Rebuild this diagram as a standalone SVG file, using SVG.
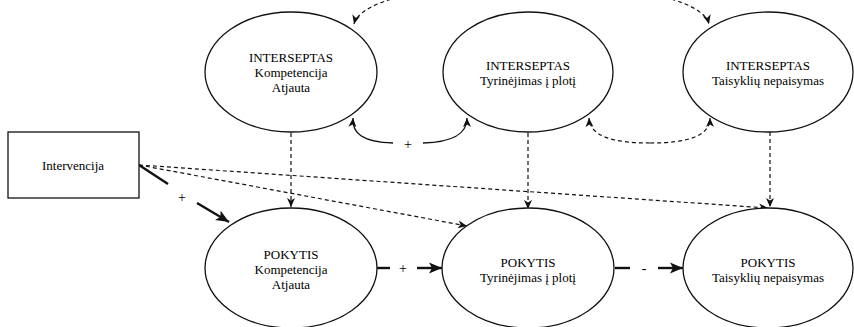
<svg xmlns="http://www.w3.org/2000/svg" width="854" height="327" viewBox="0 0 854 327">
  <style>
    .node { fill: #fff; stroke: #111; stroke-width: 1.3; }
    .lbl { font-family: "Liberation Serif", "Times New Roman", serif; font-size: 13px; fill: #000; text-anchor: middle; }
    .sign { font-family: "Liberation Serif", "Times New Roman", serif; font-size: 14px; fill: #000; text-anchor: middle; }
    .dash { fill: none; stroke: #111; stroke-width: 1.2; stroke-dasharray: 4 3; }
    .thin { fill: none; stroke: #111; stroke-width: 1.3; }
    .thick { fill: none; stroke: #111; stroke-width: 2.4; }
  </style>
  <defs>
    <marker id="small" markerUnits="userSpaceOnUse" markerWidth="10" markerHeight="10" viewBox="0 0 10 10" refX="9" refY="5" orient="auto-start-reverse">
      <path d="M0,1 L9,5 L0,9 L2.5,5 Z" fill="#111"/>
    </marker>
    <marker id="big" markerUnits="userSpaceOnUse" markerWidth="14" markerHeight="12" viewBox="0 0 14 12" refX="13" refY="6" orient="auto">
      <path d="M0,0.5 L13,6 L0,11.5 L3,6 Z" fill="#111"/>
    </marker>
  </defs>

  <rect width="854" height="327" fill="#fff"/>

  <g id="connectors">
    <!-- feedback arc across the top row -->
    <path class="dash" d="M354,24 C 368,-30 695,-30 709,24" marker-start="url(#small)" marker-end="url(#small)"/>
    <!-- positive link between the first two top nodes -->
    <path class="thin" d="M393,143 C 362,142 352,133 353,118" marker-end="url(#small)"/>
    <path class="thin" d="M423,143 C 455,142 467,133 467,118" marker-end="url(#small)"/>
    <!-- dashed link between the last two top nodes -->
    <path class="dash" d="M650,143 C 612,143 590,136 589,118" marker-end="url(#small)"/>
    <path class="dash" d="M650,143 C 688,143 710,136 710,118" marker-end="url(#small)"/>
    <!-- top row to bottom row -->
    <path class="dash" d="M291,133 L291,207" marker-end="url(#small)"/>
    <path class="dash" d="M528,133 L528,209" marker-end="url(#small)"/>
    <path class="dash" d="M770,132 L770,207" marker-end="url(#small)"/>
    <!-- intervention effects -->
    <path class="dash" d="M139,165 L467,226" marker-end="url(#small)"/>
    <path class="dash" d="M139,165 L768,208" marker-end="url(#small)"/>
    <path class="thick" d="M139,165 L168,184"/>
    <path class="thick" d="M197,203 L229,222" marker-end="url(#big)"/>
    <!-- bottom row chain -->
    <path class="thick" d="M377,268 L390,268"/>
    <path class="thick" d="M417,268 L442,268" marker-end="url(#big)"/>
    <path class="thick" d="M615,268 L630,268"/>
    <path class="thick" d="M658,268 L683,268" marker-end="url(#big)"/>
    <!-- signs -->
    <text class="sign" x="182" y="202">+</text>
    <text class="sign" x="408" y="149">+</text>
    <text class="sign" x="403" y="273">+</text>
    <text class="sign" x="644" y="273">-</text>
  </g>

  <g id="intervencija">
    <rect class="node" x="8" y="132" width="131" height="66"/>
    <text class="lbl" x="73" y="170">Intervencija</text>
  </g>

  <g id="interseptas-kompetencija">
    <ellipse class="node" cx="291" cy="72" rx="86" ry="60"/>
    <text class="lbl" x="291" y="62">INTERSEPTAS</text>
    <text class="lbl" x="291" y="77">Kompetencija</text>
    <text class="lbl" x="291" y="92">Atjauta</text>
  </g>

  <g id="interseptas-tyrinejimas">
    <ellipse class="node" cx="528" cy="72" rx="85" ry="60"/>
    <text class="lbl" x="528" y="70">INTERSEPTAS</text>
    <text class="lbl" x="528" y="85">Tyrinėjimas į plotį</text>
  </g>

  <g id="interseptas-taisykliu">
    <ellipse class="node" cx="768" cy="72" rx="85" ry="60"/>
    <text class="lbl" x="768" y="70">INTERSEPTAS</text>
    <text class="lbl" x="768" y="85">Taisyklių nepaisymas</text>
  </g>

  <g id="pokytis-kompetencija">
    <ellipse class="node" cx="291" cy="268" rx="86" ry="60"/>
    <text class="lbl" x="291" y="259">POKYTIS</text>
    <text class="lbl" x="291" y="274">Kompetencija</text>
    <text class="lbl" x="291" y="289">Atjauta</text>
  </g>

  <g id="pokytis-tyrinejimas">
    <ellipse class="node" cx="528" cy="268" rx="86" ry="60"/>
    <text class="lbl" x="528" y="267">POKYTIS</text>
    <text class="lbl" x="528" y="282">Tyrinėjimas į plotį</text>
  </g>

  <g id="pokytis-taisykliu">
    <ellipse class="node" cx="768" cy="268" rx="85" ry="60"/>
    <text class="lbl" x="768" y="267">POKYTIS</text>
    <text class="lbl" x="768" y="282">Taisyklių nepaisymas</text>
  </g>
</svg>
